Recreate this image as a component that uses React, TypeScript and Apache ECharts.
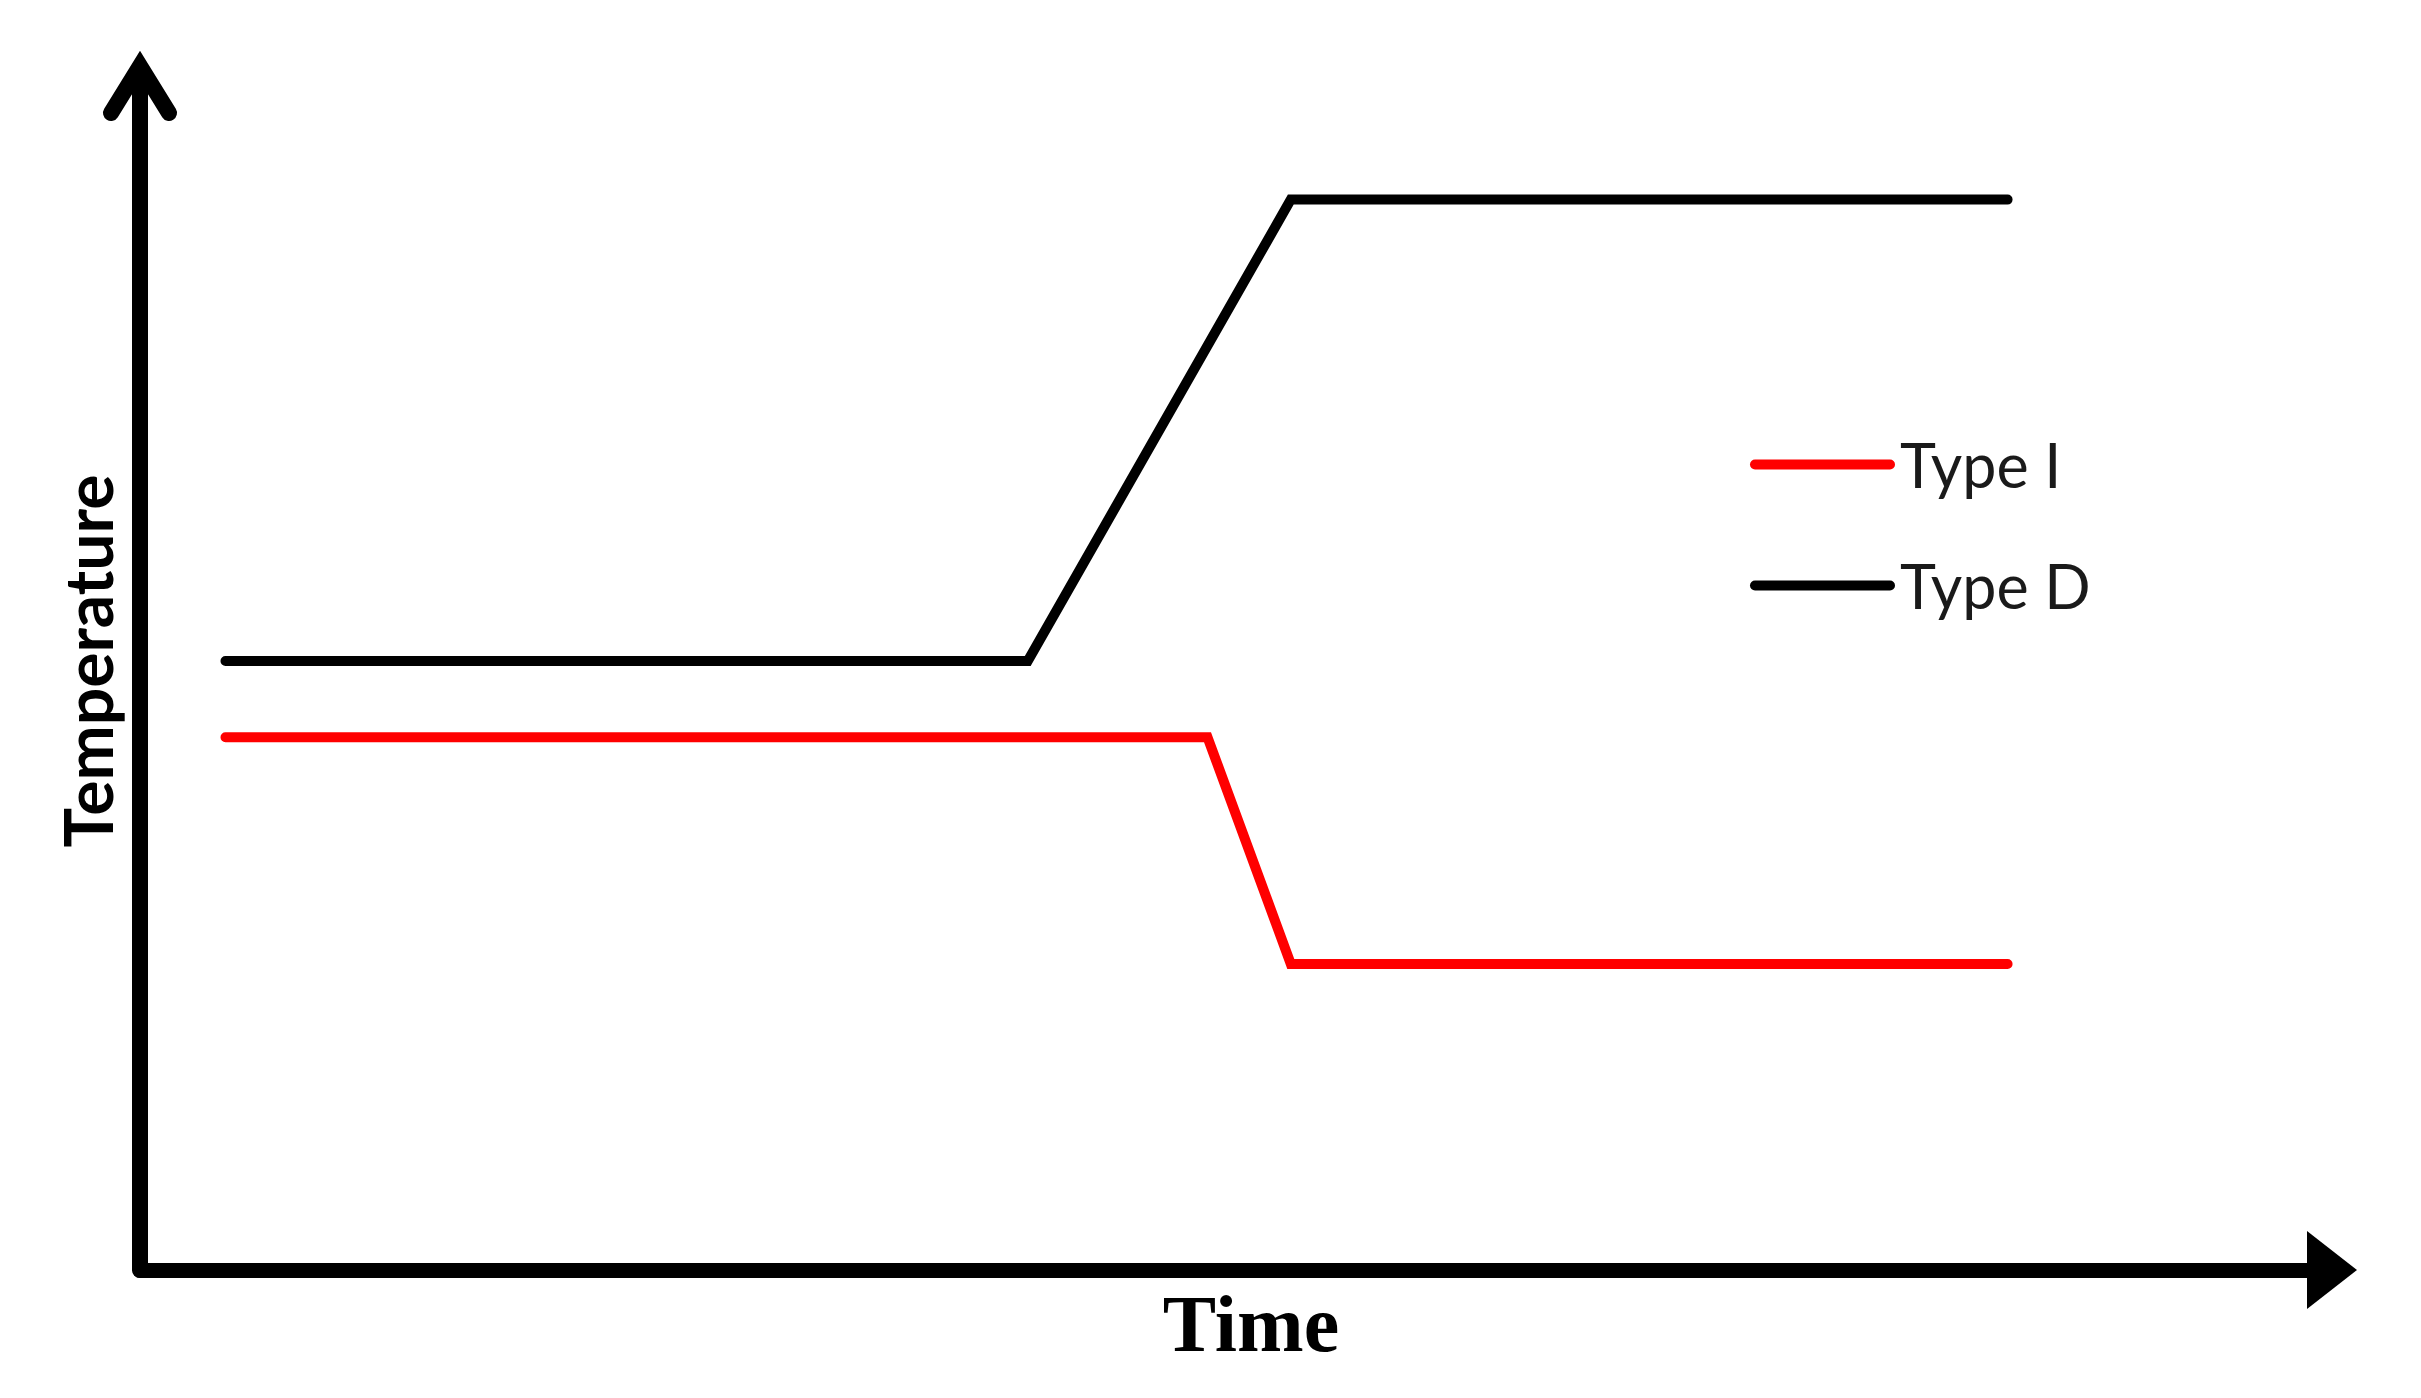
import React, { useEffect, useRef } from "react";
import * as echarts from "echarts";

// Data (arbitrary units: time 0–100, temperature 0–100)
const seriesNames = ["Type I", "Type D"];
const timeTypeI = [3.9, 48.7, 52.5, 85.2];
const tempTypeI = [44.4, 44.4, 25.5, 25.5];
const timeTypeD = [3.9, 40.5, 52.5, 85.2];
const tempTypeD = [50.75, 50.75, 89.2, 89.2];
const axisNames = { x: "Time", y: "Temperature" };

const W = 2421;
const H = 1398;
const GRID_L = 140;
const GRID_T = 70;
const GRID_R = 89;
const GRID_B = 128;

export default function App() {
  const ref = useRef<HTMLDivElement>(null);
  useEffect(() => {
    document.body.style.margin = "0";
    if (!ref.current) return;
    const chart = echarts.init(ref.current, undefined, { renderer: "svg" });
    const pair = (xs: number[], ys: number[]) => xs.map((x, i) => [x, ys[i]]);
    chart.setOption({
      animation: false,
      backgroundColor: "#ffffff",
      grid: { left: GRID_L, top: GRID_T, right: GRID_R, bottom: GRID_B },
      xAxis: {
        type: "value",
        min: 0,
        max: 100,
        name: axisNames.x,
        nameLocation: "middle",
        nameGap: 14,
        nameTextStyle: {
          fontFamily: "Liberation Serif",
          fontWeight: "bold",
          fontSize: 80,
          color: "#000",
          padding: [0, 0, 0, 30],
        },
        axisLine: {
          show: true,
          symbol: ["none", "triangle"],
          symbolSize: [78, 50],
          lineStyle: { color: "#000", width: 15 },
        },
        axisTick: { show: false },
        axisLabel: { show: false },
        splitLine: { show: false },
      },
      yAxis: {
        type: "value",
        min: 0,
        max: 100,
        name: axisNames.y,
        nameLocation: "middle",
        nameRotate: 90,
        nameGap: 20,
        nameTextStyle: {
          fontFamily: "Lato",
          fontWeight: "bold",
          fontSize: 66,
          color: "#000",
          padding: [0, 0, 0, 18],
        },
        axisLine: {
          show: true,
          onZero: false,
          lineStyle: { color: "#000", width: 16 },
        },
        axisTick: { show: false },
        axisLabel: { show: false },
        splitLine: { show: false },
      },
      legend: {
        orient: "vertical",
        left: 1745,
        top: 429,
        itemWidth: 145,
        itemHeight: 10,
        itemGap: 60,
        icon: "path://M5,0 L140,0 A5,5 0 0 1 140,10 L5,10 A5,5 0 0 1 5,0 Z",
        data: seriesNames,
        textStyle: { fontFamily: "Lato", fontSize: 61, color: "#1a1a1a", padding: [0, 0, 0, 0] },
      },
      graphic: [
        {
          type: "polyline",
          shape: {
            points: [
              [GRID_L - 29, GRID_T + 43],
              [GRID_L, GRID_T - 4],
              [GRID_L + 29, GRID_T + 43],
            ],
          },
          style: { stroke: "#000", lineWidth: 16, lineCap: "round", lineJoin: "miter", fill: "none" },
          z: 100,
        },
      ],
      series: [
        {
          name: seriesNames[0],
          type: "line",
          data: pair(timeTypeI, tempTypeI),
          showSymbol: false,
          symbol: "none",
          lineStyle: { color: "#ff0000", width: 10, cap: "round", join: "miter" },
          itemStyle: { color: "#ff0000" },
        },
        {
          name: seriesNames[1],
          type: "line",
          data: pair(timeTypeD, tempTypeD),
          showSymbol: false,
          symbol: "none",
          lineStyle: { color: "#000000", width: 10, cap: "round", join: "miter" },
          itemStyle: { color: "#000000" },
        },
      ],
    });
    return () => chart.dispose();
  }, []);
  return <div ref={ref} style={{ width: W, height: H }} />;
}
